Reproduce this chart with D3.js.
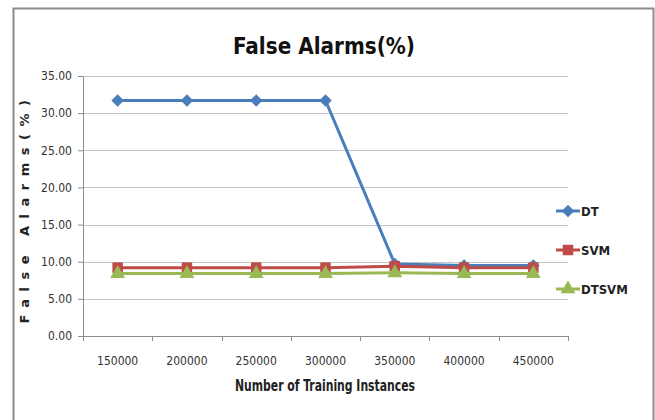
<!DOCTYPE html>
<html>
<head>
<meta charset="utf-8">
<script src="https://cdn.jsdelivr.net/npm/d3@7"></script>
<style>
  body { margin: 0; background: #fff; }
  svg { display: block; }
  text { font-family: "Liberation Sans Narrow", "DejaVu Sans Condensed", sans-serif; }
</style>
</head>
<body>
<div id="chart"></div>
<script>
// данные графика
const categories = ['150000', '200000', '250000', '300000', '350000', '400000', '450000'];
const dtValues = [31.7, 31.7, 31.7, 31.7, 9.7, 9.5, 9.5];
const svmValues = [9.2, 9.2, 9.2, 9.2, 9.4, 9.2, 9.2];
const dtsvmValues = [8.4, 8.4, 8.4, 8.4, 8.5, 8.4, 8.4];
const yTicks = [0, 5, 10, 15, 20, 25, 30, 35];
const seriesNames = ['DT', 'SVM', 'DTSVM'];

const series = [
    { name: seriesNames[0], values: dtValues, color: '#4a7ebb', marker: 'diamond' },
    { name: seriesNames[1], values: svmValues, color: '#be4b48', marker: 'square' },
    { name: seriesNames[2], values: dtsvmValues, color: '#98b954', marker: 'triangle' },
];

const width = 655, height = 420;
const margin = { top: 76, right: 87, bottom: 84, left: 83 };
const innerW = width - margin.left - margin.right;
const innerH = height - margin.top - margin.bottom;

const svg = d3.select('#chart').append('svg')
    .attr('width', width)
    .attr('height', height);

// рамка диаграммы
svg.append('rect')
    .attr('x', 13.5).attr('y', 8.5)
    .attr('width', 640).attr('height', 430)
    .attr('fill', '#fff')
    .attr('stroke', '#8c8c8c')
    .attr('stroke-width', 2);

const g = svg.append('g').attr('transform', `translate(${margin.left},${margin.top})`);

const x = d3.scaleBand().domain(categories).range([0, innerW]).padding(0);
const y = d3.scaleLinear().domain([0, 35]).range([innerH, 0]);
const cx = d => x(d) + x.bandwidth() / 2;

// сетка
g.append('g')
    .selectAll('line')
    .data(yTicks.filter(d => d > 0))
    .enter()
    .append('line')
    .attr('x1', 0).attr('x2', innerW)
    .attr('y1', d => Math.round(y(d)) + 0.5)
    .attr('y2', d => Math.round(y(d)) + 0.5)
    .attr('stroke', '#c4c4c4')
    .attr('stroke-width', 1);

// ось Y
const yAxis = g.append('g')
    .call(d3.axisLeft(y).tickValues(yTicks).tickSize(5).tickFormat(d3.format('.2f')));
yAxis.select('.domain').attr('stroke', '#8c8c8c');
yAxis.selectAll('.tick line').attr('stroke', '#8c8c8c');
yAxis.selectAll('.tick text')
    .attr('x', -11)
    .attr('fill', '#333')
    .style('font-size', '12px');

// ось X
const xAxis = g.append('g').attr('transform', `translate(0,${innerH})`);
xAxis.append('line')
    .attr('x1', 0).attr('x2', innerW)
    .attr('y1', 0.5).attr('y2', 0.5)
    .attr('stroke', '#8c8c8c');
xAxis.selectAll('.xtick')
    .data(categories.concat(['end']))
    .enter()
    .append('line')
    .attr('x1', (d, i) => Math.round(i * x.bandwidth()) + 0.5)
    .attr('x2', (d, i) => Math.round(i * x.bandwidth()) + 0.5)
    .attr('y1', 0).attr('y2', 5)
    .attr('stroke', '#8c8c8c');
xAxis.selectAll('.xlabel')
    .data(categories)
    .enter()
    .append('text')
    .attr('x', d => cx(d))
    .attr('y', 29)
    .attr('text-anchor', 'middle')
    .attr('fill', '#333')
    .style('font-size', '12px')
    .text(d => d);

// линии и маркеры
const line = d3.line()
    .x((d, i) => cx(categories[i]))
    .y(d => y(d));

const symbols = {
    diamond: d3.symbol().type(d3.symbolDiamond2).size(100),
    square: d3.symbol().type(d3.symbolSquare).size(110),
    triangle: d3.symbol().type(d3.symbolTriangle).size(95),
};

series.forEach(s => {
    g.append('path')
        .datum(s.values)
        .attr('d', line)
        .attr('fill', 'none')
        .attr('stroke', s.color)
        .attr('stroke-width', 3);
    g.append('g')
        .selectAll('path')
        .data(s.values)
        .enter()
        .append('path')
        .attr('d', symbols[s.marker])
        .attr('transform', (d, i) => `translate(${cx(categories[i])},${y(d)})`)
        .attr('fill', s.color);
});

// заголовок
svg.append('text')
    .attr('x', 324)
    .attr('y', 54)
    .attr('text-anchor', 'middle')
    .style('font-size', '23px')
    .style('font-weight', 'bold')
    .attr('fill', '#111')
    .attr('textLength', 182)
    .attr('lengthAdjust', 'spacingAndGlyphs')
    .text('False Alarms(%)');

// подпись оси X
svg.append('text')
    .attr('x', 325)
    .attr('y', 391)
    .attr('text-anchor', 'middle')
    .style('font-size', '15px')
    .style('font-weight', 'bold')
    .attr('fill', '#222')
    .attr('textLength', 180)
    .attr('lengthAdjust', 'spacingAndGlyphs')
    .text('Number of Training Instances');

// подпись оси Y
svg.append('text')
    .attr('transform', 'translate(29,208) rotate(-90)')
    .attr('text-anchor', 'middle')
    .style('font-family', '"DejaVu Sans", sans-serif')
    .style('font-size', '13px')
    .style('font-weight', 'bold')
    .style('letter-spacing', '7.5px')
    .attr('fill', '#222')
    .text('False Alarms(%)');

// легенда
const legend = svg.append('g');
const legendY = [211, 250, 289];
series.forEach((s, i) => {
    const ly = legendY[i];
    legend.append('line')
        .attr('x1', 556).attr('x2', 580)
        .attr('y1', ly).attr('y2', ly)
        .attr('stroke', s.color)
        .attr('stroke-width', 3);
    legend.append('path')
        .attr('d', symbols[s.marker])
        .attr('transform', `translate(568,${ly})`)
        .attr('fill', s.color);
    legend.append('text')
        .attr('x', 581)
        .attr('y', ly)
        .attr('dy', '0.35em')
        .style('font-size', '13px')
        .style('font-weight', 'bold')
        .attr('fill', '#222')
        .text(s.name);
});
</script>
</body>
</html>
